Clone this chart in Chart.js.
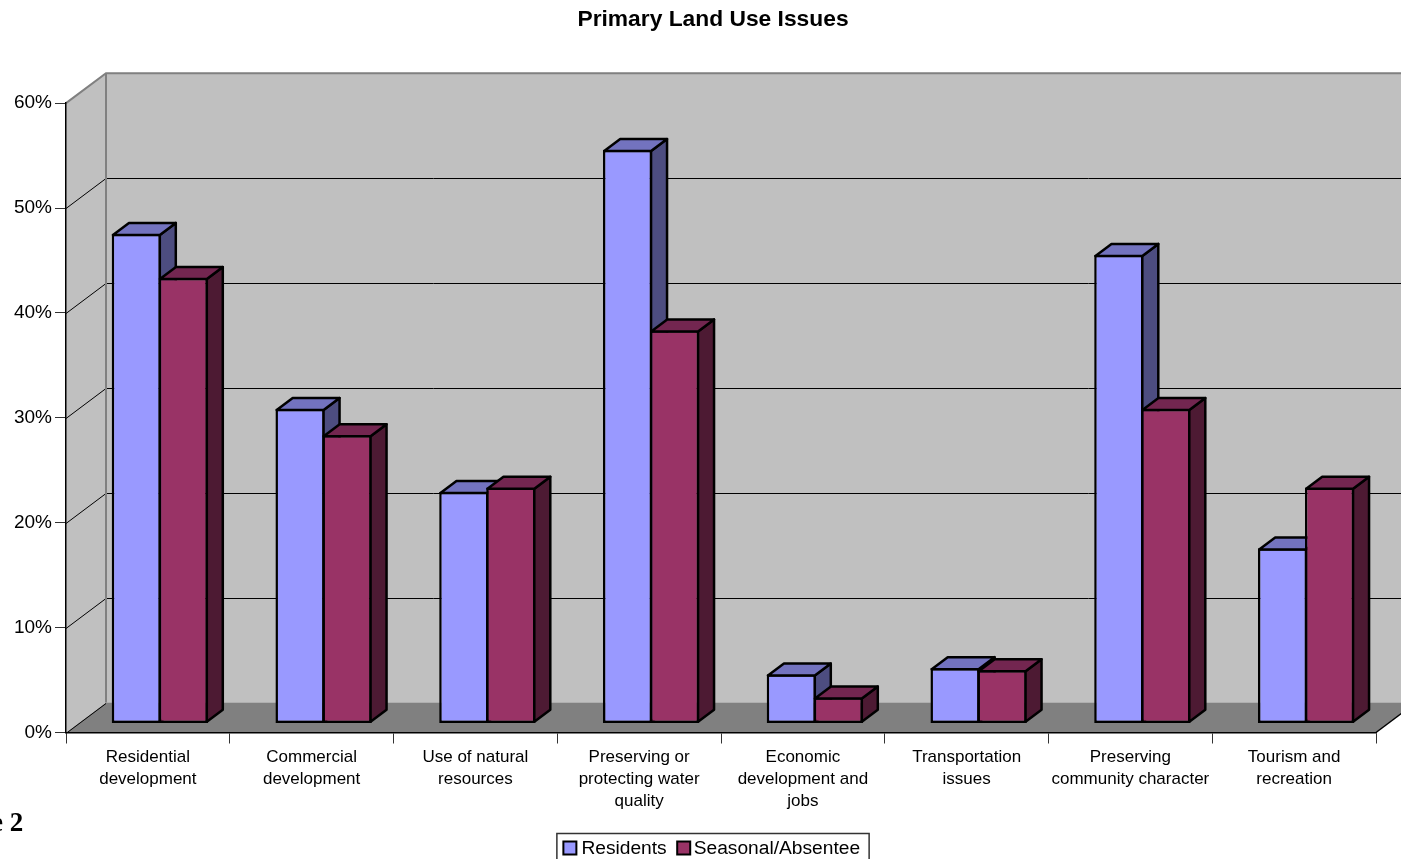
<!DOCTYPE html>
<html>
<head>
<meta charset="utf-8">
<title>Primary Land Use Issues</title>
<script src="https://cdn.jsdelivr.net/npm/chart.js@4"></script>
<style>
html, body { margin: 0; padding: 0; background: #fff; overflow: hidden; width: 1401px; height: 859px; }
#wrap { position: relative; width: 1401px; height: 859px; overflow: hidden; }
canvas { position: absolute; left: 0; top: 0; }
#fig { position: absolute; left: -9px; top: 807px; font: bold 27px "Liberation Serif", serif; color: #000; white-space: pre; }
</style>
</head>
<body>
<div id="wrap">
  <canvas id="myChart" width="1426" height="864"></canvas>
  <div id="fig">e 2</div>
</div>
<script>
var categories = [
    ['Residential', 'development'],
    ['Commercial', 'development'],
    ['Use of natural', 'resources'],
    ['Preserving or', 'protecting water', 'quality'],
    ['Economic', 'development and', 'jobs'],
    ['Transportation', 'issues'],
    ['Preserving', 'community character'],
    ['Tourism and', 'recreation']
];
var residents = [46.7, 30, 22.1, 54.7, 4.7, 5.3, 44.7, 16.7];
var seasonal = [42.5, 27.5, 22.5, 37.5, 2.5, 5.1, 30, 22.5];

var fontFamily = '"Liberation Sans", Arial, sans-serif';

// depth of the floor and of the bars, in pixels
var wallDx = 40, wallDy = -30;
var barShiftX = 12, barShiftY = -9;
var barDx = 16, barDy = -12;
var barLine = 2.5;

var sideColors = ['#4d4d80', '#4d1a33'];
var topColors = ['#7373bf', '#732650'];

function poly(ctx, pts) {
    ctx.beginPath();
    ctx.moveTo(pts[0][0], pts[0][1]);
    for (var i = 1; i < pts.length; i++) ctx.lineTo(pts[i][0], pts[i][1]);
    ctx.closePath();
}

// back wall, side wall and floor behind the bars
var walls = {
    id: 'walls',
    beforeDraw: function(chart) {
        var ctx = chart.ctx, x = chart.scales.x, y = chart.scales.y;
        var left = x.left, right = x.right;
        var top = y.getPixelForValue(60), base = y.getPixelForValue(0);
        ctx.save();
        ctx.fillStyle = '#c0c0c0';
        ctx.fillRect(left + wallDx, top + wallDy, right - left, base - top);
        poly(ctx, [[left, top], [left + wallDx, top + wallDy], [left + wallDx, base + wallDy], [left, base]]);
        ctx.fill();
        ctx.fillStyle = '#808080';
        poly(ctx, [[left, base], [right, base], [right + wallDx, base + wallDy], [left + wallDx, base + wallDy]]);
        ctx.fill();

        ctx.strokeStyle = '#000';
        ctx.lineWidth = 1;
        y.ticks.forEach(function(t) {
            if (t.value == 60) return;
            var py = Math.round(y.getPixelForValue(t.value)) + 0.5;
            ctx.beginPath();
            ctx.moveTo(left, py);
            ctx.lineTo(left + wallDx, py + wallDy);
            if (t.value > 0) ctx.lineTo(right + wallDx, py + wallDy);
            ctx.stroke();
        });

        ctx.strokeStyle = '#808080';
        ctx.lineWidth = 2;
        ctx.beginPath();
        ctx.moveTo(left, top);
        ctx.lineTo(left + wallDx, top + wallDy);
        ctx.lineTo(right + wallDx, top + wallDy);
        ctx.moveTo(left + wallDx, top + wallDy);
        ctx.lineTo(left + wallDx, base + wallDy);
        ctx.stroke();

        ctx.strokeStyle = '#000';
        ctx.lineWidth = 1.5;
        ctx.beginPath();
        ctx.moveTo(right, base);
        ctx.lineTo(right + wallDx, base + wallDy);
        ctx.stroke();
        ctx.restore();
    }
};

// Residents has to go down first so the second bar covers its side face,
// so the normal dataset pass is skipped and the bars are drawn here in order
var bars3d = {
    id: 'bars3d',
    beforeDatasetDraw: function() {
        return false;
    },
    afterDatasetsDraw: function(chart) {
        var ctx = chart.ctx;
        var inset = barLine / 2;
        ctx.save();
        ctx.translate(barShiftX, barShiftY);
        ctx.lineJoin = 'round';
        chart.data.datasets.forEach(function(ds, idx) {
            chart.getDatasetMeta(idx).data.forEach(function(bar) {
                bar.draw(ctx);
                var p = bar.getProps(['x', 'y', 'base', 'width'], true);
                var l = p.x - p.width / 2 + inset, r = p.x + p.width / 2 - inset;
                var t = p.y + inset, b = p.base - inset;
                ctx.lineWidth = barLine;
                ctx.strokeStyle = '#000';
                ctx.fillStyle = sideColors[idx];
                poly(ctx, [[r, t], [r + barDx, t + barDy], [r + barDx, b + barDy], [r, b]]);
                ctx.fill();
                ctx.stroke();
                ctx.fillStyle = topColors[idx];
                poly(ctx, [[l, t], [l + barDx, t + barDy], [r + barDx, t + barDy], [r, t]]);
                ctx.fill();
                ctx.stroke();
            });
        });
        ctx.restore();
    }
};

// framed legend under the axis, tighter than the built-in one
var frameLegend = {
    id: 'frameLegend',
    afterDraw: function(chart) {
        var ctx = chart.ctx;
        var sets = chart.data.datasets;
        ctx.save();
        ctx.font = '19.2px ' + fontFamily;
        var w0 = ctx.measureText(sets[0].label).width;
        var w1 = ctx.measureText(sets[1].label).width;
        var total = 6.5 + 13 + 5 + w0 + 10.5 + 13 + 3.5 + w1 + 9;
        var left = chart.width / 2 - total / 2;
        var top = 833.5;
        ctx.strokeStyle = '#333';
        ctx.lineWidth = 1.5;
        ctx.strokeRect(left, top, total, 40);
        var cx = left + 6.5;
        ctx.textBaseline = 'middle';
        ctx.textAlign = 'left';
        sets.forEach(function(ds, i) {
            ctx.fillStyle = ds.backgroundColor;
            ctx.strokeStyle = '#000';
            ctx.lineWidth = 2;
            ctx.fillRect(cx, top + 8, 13, 13);
            ctx.strokeRect(cx, top + 8, 13, 13);
            cx += 13 + (i == 0 ? 5 : 3.5);
            ctx.fillStyle = '#000';
            ctx.fillText(ds.label, cx, top + 15);
            cx += (i == 0 ? w0 : w1) + 10.5;
        });
        ctx.restore();
    }
};

var ctx = document.getElementById('myChart').getContext('2d');
var myChart = new Chart(ctx, {
    type: 'bar',
    data: {
        labels: categories,
        datasets: [{
            label: 'Residents',
            data: residents,
            backgroundColor: '#9999ff',
            borderColor: '#000',
            borderWidth: barLine,
            borderSkipped: false
        }, {
            label: 'Seasonal/Absentee',
            data: seasonal,
            backgroundColor: '#993366',
            borderColor: '#000',
            borderWidth: barLine,
            borderSkipped: false
        }]
    },
    plugins: [walls, bars3d, frameLegend],
    options: {
        responsive: false,
        animation: false,
        devicePixelRatio: 1,
        categoryPercentage: 0.574,
        barPercentage: 1.05,
        plugins: {
            tooltip: { enabled: false },
            legend: { display: false },
            title: {
                display: true,
                text: 'Primary Land Use Issues',
                color: '#000',
                font: { family: fontFamily, size: 22.8, weight: 'bold' },
                padding: { top: 6, bottom: 69.8 }
            }
        },
        scales: {
            x: {
                afterFit: function(s) { s.height = 131.5; },
                border: { color: '#000', width: 1.5 },
                grid: { drawOnChartArea: false, tickLength: 11, tickColor: '#333', offset: true },
                ticks: {
                    color: '#000',
                    autoSkip: false,
                    maxRotation: 0,
                    padding: 3,
                    font: { family: fontFamily, size: 17, lineHeight: 1.29 }
                }
            },
            y: {
                min: 0,
                max: 60,
                afterFit: function(s) { s.width = 66; },
                border: { color: '#000', width: 1.5 },
                grid: { drawOnChartArea: false, tickLength: 11, tickColor: '#333' },
                ticks: {
                    color: '#000',
                    stepSize: 10,
                    padding: 3,
                    callback: function(v) { return v + '%'; },
                    font: { family: fontFamily, size: 19 }
                }
            },
            // empty axis that keeps the plot clear of the right edge
            spare: {
                axis: 'y',
                position: 'right',
                min: 0,
                max: 1,
                afterFit: function(s) { s.width = 50; },
                border: { display: false },
                grid: { display: false },
                ticks: { display: false }
            }
        }
    }
});
</script>
</body>
</html>
